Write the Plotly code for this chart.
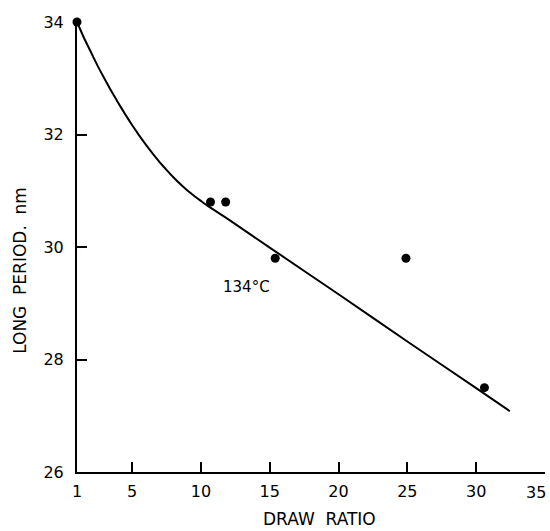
import plotly.graph_objects as go

# Data points (draw ratio, long period nm)
draw_ratio = [1.0, 10.7, 11.8, 15.4, 24.9, 30.6]
long_period = [34.0, 30.8, 30.8, 29.8, 29.8, 27.5]

# Fitted curve
curve_x = [1.0, 1.5, 2.0, 2.5, 3.0, 3.5, 4.0, 4.5, 5.0, 5.5, 6.0, 6.5, 7.0, 7.5, 8.0, 8.5, 9.0, 9.5,
           10.0, 10.5, 11.0, 11.5, 12.0, 15.0, 20.0, 25.0, 30.0, 32.45]
curve_y = [34.0, 33.72, 33.47, 33.22, 32.99, 32.77, 32.56, 32.36, 32.17, 31.99, 31.82, 31.66, 31.51,
           31.37, 31.24, 31.12, 31.01, 30.91, 30.82, 30.73, 30.65, 30.57, 30.49, 29.99, 29.16,
           28.32, 27.49, 27.08]

x_ticks = [1, 5, 10, 15, 20, 25, 30, 35]
y_ticks = [26, 28, 30, 32, 34]

FONT = "DejaVu Sans"

fig = go.Figure()
fig.add_trace(go.Scatter(x=curve_x, y=curve_y, mode="lines",
                         line=dict(color="black", width=2, shape="spline", smoothing=0.3),
                         hoverinfo="skip", showlegend=False, cliponaxis=False))
fig.add_trace(go.Scatter(x=draw_ratio, y=long_period, mode="markers",
                         marker=dict(color="black", size=9),
                         showlegend=False, cliponaxis=False))

fig.add_annotation(x=13.35, y=29.29, text="134°C", showarrow=False,
                   font=dict(family=FONT, size=15, color="black"))
fig.add_annotation(x=0.519, y=-0.104, xref="paper", yref="paper", text="DRAW  RATIO",
                   showarrow=False, xanchor="center", yanchor="middle",
                   font=dict(family=FONT, size=17, color="black"))
fig.add_annotation(x=-0.122, y=0.449, xref="paper", yref="paper", text="LONG  PERIOD.  nm",
                   showarrow=False, textangle=-90, xanchor="center", yanchor="middle",
                   font=dict(family=FONT, size=17, color="black"))
# last x tick label sits against the page edge
fig.add_annotation(x=x_ticks[-1], y=0, xref="x", yref="paper", text=str(x_ticks[-1]),
                   showarrow=False, xanchor="right", yanchor="top", xshift=3, yshift=-9,
                   font=dict(family=FONT, size=16, color="black"))

fig.update_xaxes(range=[1, 35], tickvals=x_ticks,
                 ticktext=[str(v) for v in x_ticks[:-1]] + [""],
                 showline=True, linecolor="black", linewidth=2, mirror=False,
                 ticks="inside", ticklen=10, tickwidth=1.5, tickcolor="black",
                 showgrid=False, zeroline=False, ticklabelstandoff=4,
                 tickfont=dict(family=FONT, size=16, color="black"))
fig.update_yaxes(range=[26, 34], tickvals=y_ticks,
                 showline=True, linecolor="black", linewidth=2, mirror=False,
                 ticks="inside", ticklen=10, tickwidth=1.5, tickcolor="black",
                 showgrid=False, zeroline=False, ticklabelstandoff=8,
                 tickfont=dict(family=FONT, size=16, color="black"))

fig.update_layout(width=550, height=531, margin=dict(l=77, r=5, t=22, b=59),
                  plot_bgcolor="white", paper_bgcolor="white")

fig.write_html("out.html")
